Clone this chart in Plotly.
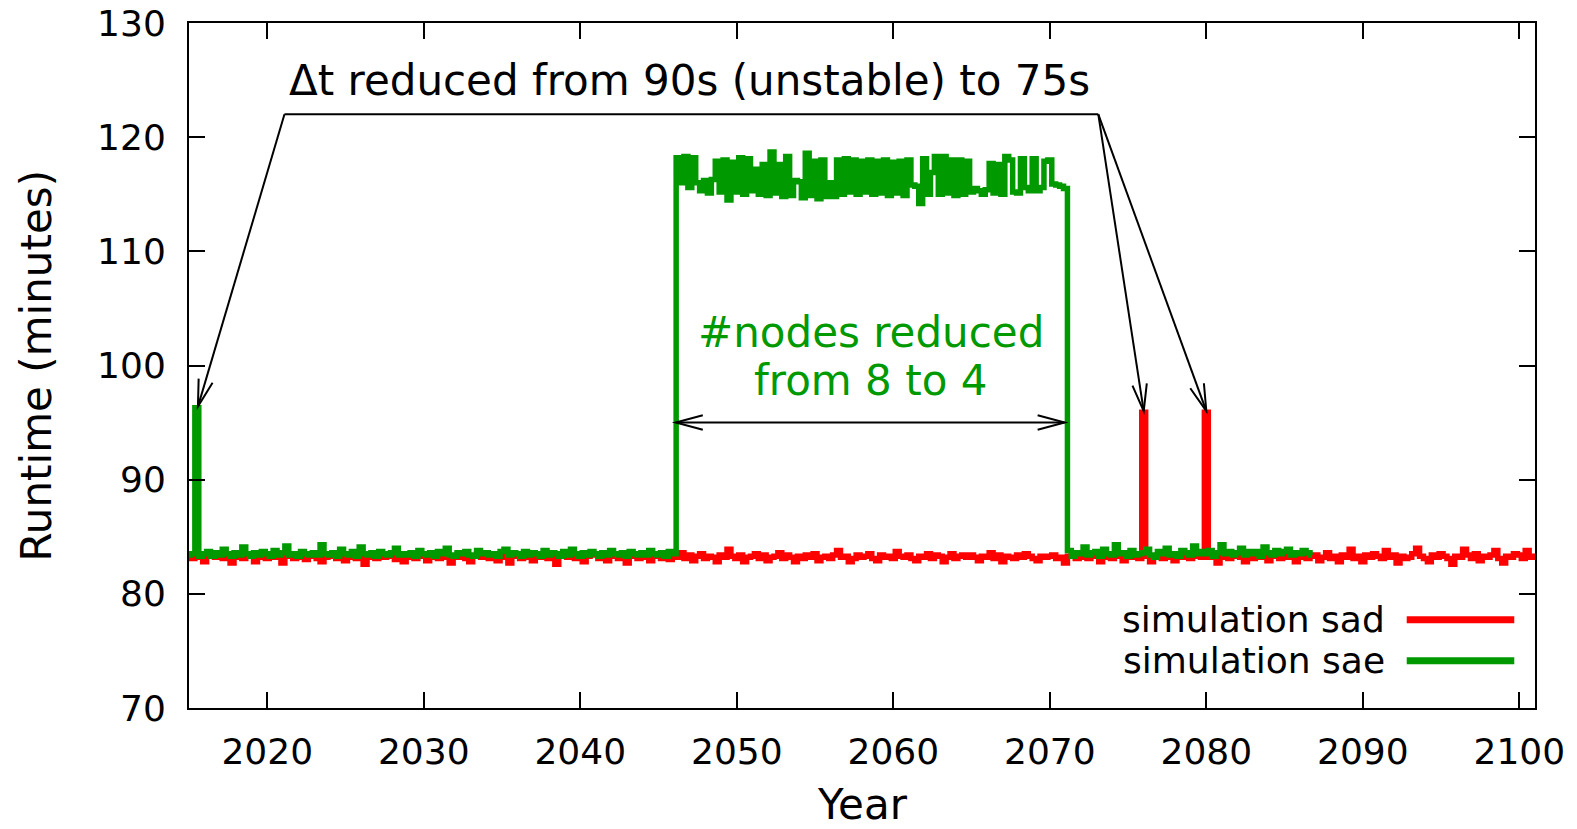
import math
import plotly.graph_objects as go

# ---------------- data ----------------
START_YEAR = 2015.0
STEP = 0.25  # quarterly samples

sad_runtime = [
    83.3, 83.1, 83.4, 83.2,  82.8, 83.3, 83.5, 83.2,  83.4, 83.1, 83.3, 82.7,  83.2, 83.4, 83.1, 83.5,
    83.3, 82.8, 83.2, 83.4,  83.1, 83.5, 83.2, 83.3,  82.7, 83.3, 83.4, 83.1,  83.2, 83.5, 83.0, 83.3,
    83.4, 83.1, 82.8, 83.2,  83.3, 83.5, 83.1, 83.4,  82.9, 83.2, 83.4, 83.1,  83.3, 82.6, 83.2, 83.5,
    83.1, 83.4, 83.2, 83.3,  83.5, 83.0, 83.3, 82.8,  83.2, 83.4, 83.1, 83.3,  83.4, 82.9, 83.3, 83.2,
    83.1, 83.5, 83.2, 82.7,  83.3, 83.2, 83.4, 83.1,  82.8, 83.3, 83.5, 83.2,  83.4, 83.1, 83.3, 82.9,
    83.2, 83.4, 82.7, 83.3,  83.5, 83.1, 83.3, 83.2,  82.9, 83.4, 83.2, 83.3,  83.1, 83.3, 82.6, 83.4,
    83.3, 83.2, 83.5, 83.1,  83.2, 82.8, 83.3, 83.4,  83.4, 83.1, 83.2, 82.9,  83.3, 83.5, 83.1, 83.2,
    82.7, 83.3, 83.4, 83.1,  83.2, 83.4, 82.9, 83.3,  83.5, 83.1, 83.2, 83.0,  83.3, 83.2, 83.6, 83.1,
    83.4, 82.9, 83.3, 83.5,  83.1, 83.3, 83.2, 82.8,  83.4, 83.2, 83.9, 83.3,  83.1, 83.4, 82.8, 83.2,
    83.3, 83.5, 83.1, 83.4,  82.9, 83.2, 83.3, 83.6,  83.1, 83.4, 83.2, 82.8,  83.3, 83.1, 83.4, 83.2,
    83.5, 82.9, 83.2, 83.3,  83.1, 83.4, 83.8, 83.2,  83.3, 82.8, 83.1, 83.4,  83.2, 83.3, 83.5, 83.1,
    82.9, 83.4, 83.2, 83.3,  83.1, 83.7, 83.3, 83.2,  83.4, 83.1, 82.9, 83.3,  83.2, 83.5, 83.1, 83.4,
    83.3, 82.8, 83.2, 83.5,  83.1, 83.3, 83.4, 83.2,  83.4, 83.2, 82.9, 83.3,  83.2, 83.6, 83.1, 83.4,
    82.8, 83.3, 83.2, 83.1,  83.4, 83.2, 83.5, 83.3,  83.1, 82.9, 83.3, 83.2,  83.3, 83.4, 83.1, 83.2,
    82.7, 83.3, 83.4, 83.1,  83.2, 83.5, 83.1, 83.3,  83.4, 82.8, 83.2, 83.3,  83.1, 83.4, 83.3, 82.9,
    83.3, 83.2, 83.5, 83.1,  95.9, 83.3, 82.8, 83.2,  83.4, 83.1, 83.3, 83.2,  82.9, 83.4, 83.2, 83.5,
    83.1, 83.3, 83.4, 83.2,  95.9, 83.2, 83.3, 82.7,  83.2, 83.4, 83.1, 83.3,  83.5, 83.2, 82.8, 83.3,
    83.1, 83.4, 83.2, 83.3,  82.9, 83.3, 83.5, 83.1,  83.4, 83.2, 83.3, 82.8,  83.2, 83.5, 83.1, 83.3,
    83.4, 82.9, 83.2, 83.6,  83.1, 83.3, 82.8, 83.4,  83.2, 83.9, 83.1, 83.3,  82.8, 83.4, 83.2, 83.5,
    83.3, 83.1, 83.8, 83.2,  83.4, 82.7, 83.3, 83.1,  83.2, 83.5, 84.0, 83.3,  83.1, 82.8, 83.4, 83.2,
    83.5, 83.3, 83.1, 82.6,  83.3, 83.2, 83.9, 83.4,  83.1, 83.5, 82.9, 83.3,  83.2, 83.4, 83.8, 83.1,
    82.7, 83.3, 83.2, 83.5,  83.4, 83.1, 83.8, 83.2,  83.3,
]

sae_runtime = [
    83.4, 83.5, 96.3, 83.3,  83.5, 83.7, 83.3, 83.6,  83.4, 83.9, 83.5, 83.3,  83.6, 83.4, 84.1, 83.5,
    83.3, 83.6, 83.4, 83.7,  83.5, 83.3, 83.8, 83.4,  83.6, 84.2, 83.4, 83.5,  83.3, 83.7, 83.5, 83.4,
    83.6, 83.4, 84.3, 83.5,  83.4, 83.6, 83.3, 83.9,  83.5, 83.4, 83.7, 83.3,  84.1, 83.5, 83.4, 83.6,
    83.3, 83.7, 83.5, 83.4,  83.6, 84.0, 83.4, 83.5,  83.4, 83.6, 83.3, 83.8,  83.5, 83.4, 83.6, 83.3,
    83.7, 83.5, 84.0, 83.4,  83.3, 83.6, 83.5, 83.7,  83.4, 83.3, 83.8, 83.5,  83.6, 83.4, 83.5, 83.3,
    83.7, 83.9, 83.4, 83.6,  83.5, 83.3, 83.7, 83.4,  83.6, 83.5, 83.3, 83.8,  83.4, 83.6, 83.5, 83.3,
    83.7, 83.4, 83.9, 83.5,  83.3, 83.6, 83.4, 83.7,  83.5, 83.3, 83.6, 83.4,  83.8, 83.5, 83.4, 83.6,
    83.3, 83.7, 83.5, 83.4,  83.6, 83.4, 83.8, 83.5,  83.4, 83.6, 83.3, 83.7,
    # 2046: block with 4 nodes starts
    83.5, 118.2, 116.0, 118.3,
    115.6, 118.2, 116.0, 115.3,  116.2, 115.1, 116.3, 117.9,  115.2, 118.0, 114.5, 117.8,
    115.2, 118.2, 115.0, 118.1,  115.3, 117.2, 115.0, 117.6,  114.9, 118.7, 115.1, 117.6,
    114.8, 118.3, 114.9, 116.2,  116.1, 114.7, 118.6, 114.9,  117.9, 114.6, 118.0, 114.8,
    116.0, 114.8, 118.0, 115.0,  118.1, 115.2, 118.0, 115.0,  117.9, 115.2, 118.0, 115.0,
    117.9, 115.1, 118.0, 114.9,  117.8, 115.1, 117.9, 114.9,  118.0, 115.8, 115.7, 114.2,
    118.1, 115.0, 116.9, 118.3,  115.0, 118.3, 115.1, 118.0,  114.9, 118.0, 115.0, 117.9,
    115.2, 115.5, 115.3, 115.0,  115.4, 117.7, 115.1, 117.6,  115.0, 118.3, 118.0, 115.2,
    115.1, 118.1, 115.6, 115.3,  118.1, 115.3, 115.6, 117.9,  118.0, 115.9, 115.8, 115.7,
    # 2071: back to 8 nodes
    115.5, 83.8, 83.3, 83.6,  83.5, 84.1, 83.4, 83.6,  83.7, 83.3, 83.9, 83.5,  83.4, 84.3, 83.5, 83.6,
    83.3, 83.8, 83.4, 83.5,  83.6, 83.9, 83.4, 83.2,  83.7, 83.5, 84.0, 83.4,  83.5, 83.3, 83.8, 83.6,
    83.4, 84.2, 83.5, 83.7,  83.5, 83.8, 83.3, 83.6,  84.3, 83.5, 83.7, 83.4,  83.6, 84.0, 83.4, 83.7,
    83.5, 83.7, 83.3, 84.1,  83.6, 83.4, 83.8, 83.5,  83.7, 83.9, 83.4, 83.6,  83.5, 83.8, 83.6, 83.4,
]

series_names = ["simulation sad", "simulation sae"]
series_colors = ["#ff0000", "#009900"]

x_tick_values = [2020, 2030, 2040, 2050, 2060, 2070, 2080, 2090, 2100]
y_tick_values = [70, 80, 90, 100, 110, 120, 130]
X_RANGE = [2015, 2101]
Y_RANGE = [70, 130]

# ---------------- layout geometry ----------------
W, H = 1577, 829
ML, MR, MT, MB = 189, 42, 23, 121
PLOT_W = W - ML - MR
PLOT_H = H - MT - MB
PX_X = PLOT_W / (X_RANGE[1] - X_RANGE[0])
PX_Y = PLOT_H / (Y_RANGE[1] - Y_RANGE[0])

FONT = "DejaVu Sans"
FS_TICK = 36
FS_LABEL = 42

years_sad = [START_YEAR + STEP * i for i in range(len(sad_runtime))]
years_sae = [START_YEAR + STEP * i for i in range(len(sae_runtime))]

fig = go.Figure()
fig.add_trace(go.Scatter(x=years_sad, y=sad_runtime, mode="lines", name=series_names[0],
                         line=dict(color=series_colors[0], width=5.5, shape="hvh"), showlegend=False))
fig.add_trace(go.Scatter(x=years_sae, y=sae_runtime, mode="lines", name=series_names[1],
                         line=dict(color=series_colors[1], width=5.5, shape="hvh"), showlegend=False))

shapes = []
BLACK = "#000000"


def head_path(xt, yt, xf, yf, length=28, ang=15):
    # open V arrow head at (xt, yt), arrow coming from (xf, yf); computed in pixel space
    dx = (xt - xf) * PX_X
    dy = (yt - yf) * PX_Y
    n = math.hypot(dx, dy)
    ux, uy = dx / n, dy / n
    pts = []
    for s in (1, -1):
        a = math.radians(ang) * s
        bx = -(ux * math.cos(a) - uy * math.sin(a)) * length
        by = -(ux * math.sin(a) + uy * math.cos(a)) * length
        pts.append((xt + bx / PX_X, yt + by / PX_Y))
    return "M {},{} L {},{} L {},{}".format(pts[0][0], pts[0][1], xt, yt, pts[1][0], pts[1][1])


def add_arrow(x0, y0, x1, y1, both=False):
    shapes.append(dict(type="line", xref="x", yref="y", x0=x0, y0=y0, x1=x1, y1=y1,
                       line=dict(color=BLACK, width=2)))
    shapes.append(dict(type="path", xref="x", yref="y", path=head_path(x1, y1, x0, y0),
                       line=dict(color=BLACK, width=2)))
    if both:
        shapes.append(dict(type="path", xref="x", yref="y", path=head_path(x0, y0, x1, y1),
                           line=dict(color=BLACK, width=2)))


# "Δt reduced" bracket
BAR_L, BAR_R, BAR_Y = 2021.1, 2073.1, 122.0
shapes.append(dict(type="line", xref="x", yref="y", x0=BAR_L, y0=BAR_Y, x1=BAR_R, y1=BAR_Y,
                   line=dict(color=BLACK, width=2)))
add_arrow(BAR_L, BAR_Y, 2015.57, 96.4)
add_arrow(BAR_R, BAR_Y, 2076.0, 96.0)
add_arrow(BAR_R, BAR_Y, 2080.0, 96.0)
# nodes reduced double arrow
add_arrow(2046.1, 95.0, 2070.95, 95.0, both=True)

# manual gnuplot-style key (text left, sample right)
key_rows_y = [0.129, 0.069]
annotations = []
for name, color, ky in zip(series_names, series_colors, key_rows_y):
    shapes.append(dict(type="line", xref="paper", yref="paper", x0=0.9047, x1=0.9846, y0=ky, y1=ky,
                       line=dict(color=color, width=7)))
    annotations.append(dict(xref="paper", yref="paper", x=0.8898, y=ky, text=name, showarrow=False,
                            xanchor="right", yanchor="middle", font=dict(family=FONT, size=FS_TICK, color=BLACK)))

annotations.append(dict(xref="x", yref="y", x=2047.0, y=125.0, showarrow=False,
                        text="Δt reduced from 90s (unstable) to 75s",
                        xanchor="center", yanchor="middle", font=dict(family=FONT, size=FS_LABEL, color=BLACK)))
annotations.append(dict(xref="x", yref="y", x=2058.55, y=102.9, showarrow=False,
                        text="#nodes reduced",
                        xanchor="center", yanchor="middle", font=dict(family=FONT, size=FS_LABEL, color="#009900")))
annotations.append(dict(xref="x", yref="y", x=2058.55, y=98.7, showarrow=False,
                        text="from 8 to 4",
                        xanchor="center", yanchor="middle", font=dict(family=FONT, size=FS_LABEL, color="#009900")))
# axis titles
annotations.append(dict(xref="paper", yref="paper", x=0.5, y=(MT + PLOT_H - 804) / PLOT_H,
                        text="Year", showarrow=False, xanchor="center", yanchor="middle",
                        font=dict(family=FONT, size=FS_LABEL, color=BLACK)))
annotations.append(dict(xref="paper", yref="paper", x=(36 - ML) / PLOT_W, y=0.5, textangle=-90,
                        text="Runtime (minutes)", showarrow=False, xanchor="center", yanchor="middle",
                        font=dict(family=FONT, size=FS_LABEL, color=BLACK)))

axis_common = dict(showgrid=False, zeroline=False, showline=True, linecolor=BLACK, linewidth=2,
                   mirror="ticks", ticks="inside", ticklen=16, tickwidth=2, tickcolor=BLACK,
                   automargin=False,
                   tickfont=dict(family=FONT, size=FS_TICK, color=BLACK))

fig.update_layout(
    width=W, height=H,
    margin=dict(l=ML, r=MR, t=MT, b=MB, pad=0, autoexpand=False),
    paper_bgcolor="white", plot_bgcolor="white",
    showlegend=False,
    xaxis=dict(range=X_RANGE, tickmode="array", tickvals=x_tick_values,
               ticktext=[str(v) for v in x_tick_values], ticklabelstandoff=11, **axis_common),
    yaxis=dict(range=Y_RANGE, tickmode="array", tickvals=y_tick_values,
               ticktext=[str(v) for v in y_tick_values], ticklabelstandoff=14, **axis_common),
    shapes=shapes,
    annotations=annotations,
)

fig.write_html("out.html")
